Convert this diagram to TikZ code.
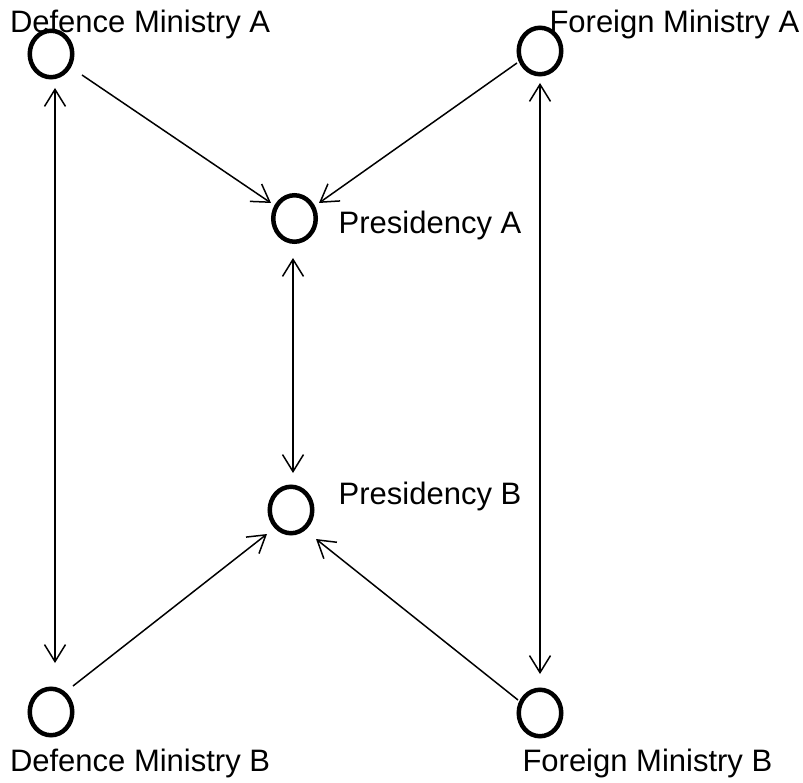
\documentclass[tikz,border=0pt]{standalone}
\usepackage{fontspec}
\setmainfont{Liberation Sans}
\usetikzlibrary{shapes.geometric,arrows.meta,calc}

\tikzset{
  actor/.style={ellipse, draw=black, line width=4.5pt, inner sep=0pt,
    minimum width=42.5pt, minimum height=46.5pt},
  caption/.style={anchor=base west, inner sep=0pt, outer sep=0pt,
    font=\fontsize{31}{37}\selectfont},
  link/.style={line width=1.5pt, -{Straight Barb[length=17pt,width=21pt]}},
  twoway/.style={line width=1.5pt, {Straight Barb[length=17pt,width=21pt]}-{Straight Barb[length=17pt,width=21pt]}}
}

\begin{document}
\begin{tikzpicture}[x=1pt,y=-1pt]
  \useasboundingbox (0,0) rectangle (803,783);

  % actors
  \node[actor] (DA) at (51,54)    {};
  \node[actor] (FA) at (540,51)   {};
  \node[actor] (PA) at (294.5,218.5) {};
  \node[actor] (PB) at (291,510)  {};
  \node[actor] (DB) at (51,712)   {};
  \node[actor] (FB) at (540,713)  {};

  % names
  \node[caption] (tDA) at (10,33)    {Defence Ministry A};
  \node[caption] (tFA) at (549.5,33) {Foreign Ministry A};
  \node[caption] (tPA) at (338.7,234) {Presidency A};
  \node[caption] (tPB) at (338.7,504) {Presidency B};
  \node[caption] (tDB) at (10,771)   {Defence Ministry B};
  \node[caption] (tFB) at (522.5,771) {Foreign Ministry B};

  % ministries report to their presidency
  \draw[link] ($(DA)+(31,21)$)  -- ($(PA)+(-23.5,-15.5)$);
  \draw[link] ($(FA)+(-23,12)$) -- ($(PA)+(24.5,-15.5)$);
  \draw[link] ($(DB)+(22,-26)$) -- ($(PB)+(-24,24)$);
  \draw[link] ($(FB)+(-22,-13)$) -- ($(PB)+(25,29)$);

  % counterpart channels
  \draw[twoway] ($(PA)+(-1.5,39.5)$) -- ($(PB)+(2,-37)$);
  \draw[twoway] ($(DA)+(4,34)$)  -- ($(DB)+(4,-49)$);
  \draw[twoway] ($(FA)+(0,32)$)  -- ($(FB)+(0,-39)$);
\end{tikzpicture}
\end{document}
